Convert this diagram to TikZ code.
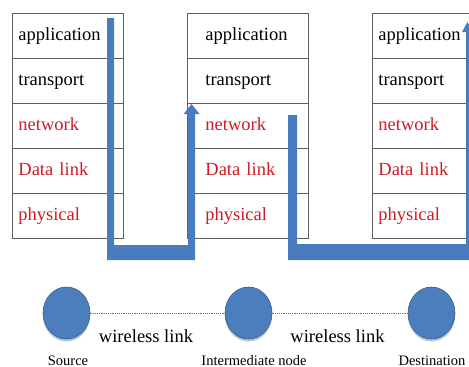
\documentclass[tikz,border=0pt]{standalone}
\usepackage{fontspec}
\setmainfont{Liberation Serif}
\usetikzlibrary{shapes.geometric}
\definecolor{flowblue}{RGB}{72,124,190}
\definecolor{layred}{RGB}{206,28,38}
\definecolor{nodeblue}{RGB}{76,126,190}
\definecolor{nodeedge}{RGB}{58,92,138}
\definecolor{shadowc}{RGB}{178,200,210}
\definecolor{boxgray}{RGB}{95,95,95}
\definecolor{dotgray}{RGB}{110,110,110}
\tikzset{
  layer/.style={draw=boxgray, line width=0.8pt, rectangle, anchor=north west,
    minimum height=45pt, inner ysep=0pt, align=left, text height=13pt, text depth=4pt,
    font=\fontsize{18.5}{20}\selectfont},
  host/.style={ellipse, fill=nodeblue, draw=nodeedge, line width=0.6pt,
    minimum width=47pt, minimum height=52pt, inner sep=0pt},
  link/.style={draw=dotgray, line width=0.8pt, dash pattern=on 1.2pt off 1pt},
  biglabel/.style={anchor=base, font=\fontsize{18.5}{20}\selectfont, inner sep=0pt},
  smalllabel/.style={anchor=base, font=\fontsize{14.5}{16}\selectfont, inner sep=0pt}
}
\begin{document}
\begin{tikzpicture}[x=1pt,y=-1pt]
\useasboundingbox (0,0) rectangle (469,367);
% protocol stacks
\foreach \txt/\col [count=\i] in {application/black, transport/black, network/layred, Data link/layred, physical/layred} {
  \node[layer, text=\col, text width=99pt, inner xsep=6pt] (a\i) at (12,{13+45*(\i-1)}) {\txt};
  \node[layer, text=\col, text width=85pt, inner xsep=18pt] (b\i) at (187,{13+45*(\i-1)}) {\txt};
  \node[layer, text=\col, text width=88pt, inner xsep=6pt] (c\i) at (372,{13+45*(\i-1)}) {\txt};
}
% flow arrows
\coordinate (f1top) at (107,18);
\coordinate (f1head) at (191.5,104);
\fill[flowblue] (f1top) -- (114,18) -- (114,245) -- (188,245) -- (188,114) -- (183.5,114)
  -- (f1head) -- (199.5,114) -- (195,114) -- (195,260) -- (107,260) -- cycle;
\coordinate (f2top) at (288,115);
\fill[flowblue] (f2top) -- (297,115) -- (297,244) -- (475,244) -- (475,260) -- (288,260) -- cycle;
\coordinate (f3head) at (467.5,22);
\fill[flowblue] (466,250) -- (466,32) -- (462,32) -- (f3head) -- (473,32) -- (469,32) -- (469,250) -- cycle;
% hosts
\fill[shadowc] (66.5,315.5) ellipse [x radius=23.5, y radius=26];
\fill[shadowc] (248.5,315.5) ellipse [x radius=23.5, y radius=26];
\fill[shadowc] (431.5,315.5) ellipse [x radius=23.5, y radius=26];
\node[host] (src) at (66.5,313) {};
\node[host] (mid) at (248.5,313) {};
\node[host] (dst) at (431.5,313) {};
\draw[link] (src.east) -- (mid.west);
\draw[link] (mid.east) -- (dst.west);
\node[biglabel] (w1) at (146,342) {wireless link};
\node[biglabel] (w2) at (337.5,342) {wireless link};
\node[smalllabel] (l1) at (68,365) {Source};
\node[smalllabel] (l2) at (254,365) {Intermediate node};
\node[smalllabel] (l3) at (432,365) {Destination};
\end{tikzpicture}
\end{document}
